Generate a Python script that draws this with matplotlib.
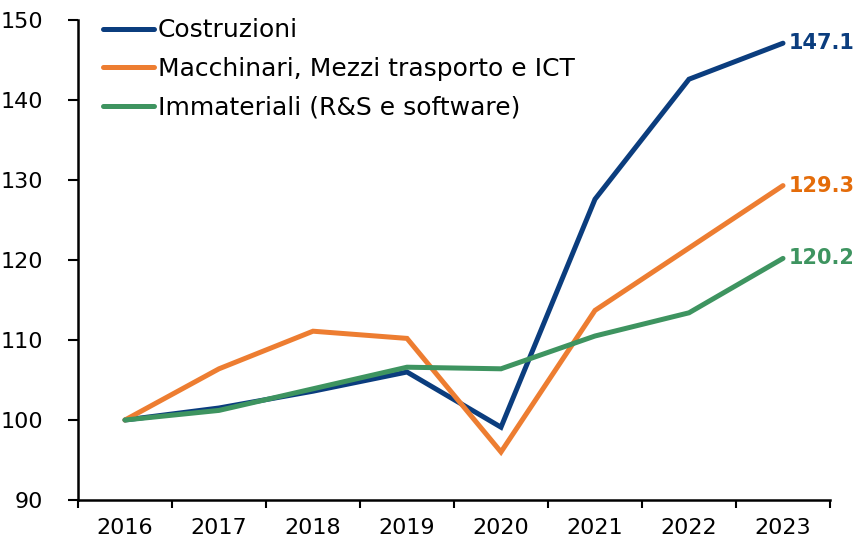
import matplotlib
matplotlib.use("Agg")
import matplotlib.pyplot as plt
import numpy as np

years = ["2016", "2017", "2018", "2019", "2020", "2021", "2022", "2023"]
costruzioni = [100.0, 101.5, 103.6, 106.0, 99.1, 127.6, 142.6, 147.1]
macchinari = [100.0, 106.4, 111.1, 110.2, 96.0, 113.7, 121.5, 129.3]
immateriali = [100.0, 101.2, 103.9, 106.6, 106.4, 110.5, 113.4, 120.2]
series_names = ["Costruzioni", "Macchinari, Mezzi trasporto e ICT", "Immateriali (R&S e software)"]
yticks = [90, 100, 110, 120, 130, 140, 150]

colors = ["#0B3D7E", "#ED7D31", "#3E9460"]
label_colors = ["#0B3D7E", "#E46C0A", "#3E9460"]

plt.rcParams['font.family'] = ['DejaVu Sans']
fig = plt.figure(figsize=(8.55, 5.47), dpi=100)
ax = fig.add_axes([78/855, 47/547, (830-78)/855, (500-20)/547])

x = np.arange(len(years))
for vals, name, c, lc in zip([costruzioni, macchinari, immateriali], series_names, colors, label_colors):
    ax.plot(x, vals, color=c, lw=3.6, label=name, solid_capstyle='round', solid_joinstyle='miter')
    ax.text(x[-1] + 0.06, vals[-1], f"{vals[-1]:.1f}", color=lc, fontsize=15,
            fontweight='bold', va='center', ha='left', clip_on=False)

ax.set_xlim(-0.5, len(years) - 0.5)
ax.set_ylim(90, 150)
ax.set_yticks(yticks)
ax.set_yticklabels([str(v) for v in yticks], fontsize=16)
ax.set_xticks(np.arange(-0.5, len(years), 1.0))
ax.set_xticklabels([])
ax.set_xticks(x, minor=True)
ax.set_xticklabels(years, minor=True, fontsize=16)
ax.tick_params(axis='x', which='minor', length=0, pad=13)
ax.tick_params(axis='x', which='major', length=6, width=1.5, direction='out')
ax.tick_params(axis='y', length=7, width=1.5, direction='out', pad=18)
for s in ['top', 'right']:
    ax.spines[s].set_visible(False)
for s in ['left', 'bottom']:
    ax.spines[s].set_linewidth(1.8)

leg = ax.legend(loc='upper left', bbox_to_anchor=(0.02, 1.024), frameon=False, fontsize=18,
                handlelength=2.05, handletextpad=0.15, labelspacing=0.58, borderaxespad=0)
for h in leg.get_lines():
    h.set_linewidth(3.6)

fig.savefig("out.png", dpi=100)
